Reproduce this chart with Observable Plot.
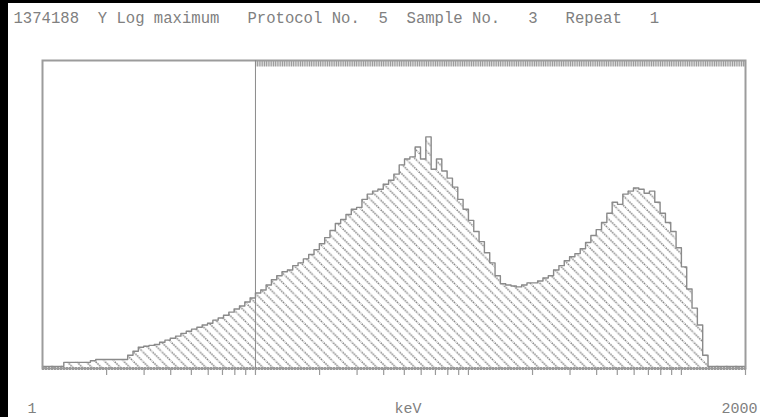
<!DOCTYPE html>
<html><head><meta charset="utf-8">
<script src="https://cdn.jsdelivr.net/npm/d3@7"></script>
<script src="https://cdn.jsdelivr.net/npm/@observablehq/plot@0.6"></script>
<style>
html,body{margin:0;padding:0;background:#fff;}
#wrap{position:relative;width:760px;height:417px;overflow:hidden;}
#wrap svg{position:absolute;left:0;top:0;}
.bar{position:absolute;background:#000;z-index:2;}
</style></head><body>
<div id="wrap">
<div class="bar" style="left:0;top:0;width:8px;height:417px"></div>
<div class="bar" style="left:0;top:0;width:760px;height:3px"></div>
</div>
<script>
// ---- data ----
const binsPerDecade = 40;            // channel grid: 40 equal log-width bins per decade
const counts = [
  7,7,7,7,20,20,20,20,20,25,29,29,29,29,29,29,
  43,56,69,72,75,78,85,92,98,105,114,121,128,134,141,147,157,164,173,183,193,203,216,229,
  245,255,271,288,301,314,320,334,343,356,370,386,405,425,448,471,484,500,517,523,
  549,566,576,582,598,611,631,661,680,687,719,680,752,647,680,641,618,589,549,517,
  481,445,412,376,343,301,275,271,268,265,271,278,278,284,294,301,320,334,350,363,
  373,389,409,432,451,474,504,540,533,566,576,586,582,569,576,540,504,474,445,392,
  330,258,196,141,43,
  7,7,7,7,7,7,7
];
const xDomain = [1, 2000];
const yMax = 1000;
const markerKeV = [10];
const tickKeV = [2,3,4,5,6,7,8,9,10,20,30,40,50,60,70,80,90,100,200,300,400,500,600,700,800,900,1000,2000];
const headerText = "1374188  Y Log maximum   Protocol No.  5  Sample No.   3   Repeat   1";
const lowLabel = "1";
const highLabel = "2000";
const axisTitle = "keV";

// ---- build step outline ----
const steps = counts.map((c, i) => ({lo: Math.pow(10, i / binsPerDecade), c}));
steps.push({lo: xDomain[1], c: counts[counts.length - 1]});

const mono = "Liberation Mono, DejaVu Sans Mono, monospace";
const nb = s => s.replace(/ /g, "\u00A0");
const txt = {fontFamily: mono, fontSize: 15, fill: "#808080", lineAnchor: "middle"};

const svg = Plot.plot({
  width: 760, height: 417,
  marginTop: 60, marginBottom: 49, marginLeft: 42, marginRight: 15,
  x: {type: "log", domain: xDomain},
  y: {domain: [0, yMax], axis: null},
  style: {background: "transparent"},
  marks: [
    Plot.areaY(steps, {x: "lo", y: "c", curve: "step-after", fill: "url(#hatch)"}),
    Plot.lineY(steps, {x: "lo", y: "c", curve: "step-after", stroke: "#8a8a8a", strokeWidth: 1.4}),
    Plot.frame({stroke: "#9c9c9c", strokeWidth: 2}),
    Plot.ruleY([0], {stroke: "#9a9a9a", strokeWidth: 3, strokeDasharray: "2 1"}),
    Plot.ruleY([yMax], {x1: markerKeV[0], x2: xDomain[1], stroke: "#9c9c9c", strokeWidth: 6, dy: 3, strokeDasharray: "1.2 0.6"}),
    Plot.ruleX(markerKeV, {stroke: "#8a8a8a", strokeWidth: 1}),
    Plot.axisX({ticks: tickKeV, tickSize: 7, tickFormat: () => "", label: null, stroke: "#9a9a9a", strokeWidth: 1.2}),
    Plot.text([headerText], {text: d => nb(d), frameAnchor: "top-left", dx: -29, dy: -43, textAnchor: "start",
      ...txt, fontSize: 15.6}),
    Plot.text([lowLabel], {frameAnchor: "bottom-left", dx: -15, dy: 40, ...txt}),
    Plot.text([axisTitle], {frameAnchor: "bottom", dx: 14, dy: 40, ...txt}),
    Plot.text([highLabel], {frameAnchor: "bottom-right", dx: 12, dy: 40, ...txt})
  ]
});

// hatch pattern
const defs = d3.select(svg).insert("defs", ":first-child");
const pat = defs.append("pattern").attr("id", "hatch").attr("patternUnits", "userSpaceOnUse")
  .attr("width", 9.5).attr("height", 9.5);
pat.append("path").attr("d", "M-1,-1 L10.5,10.5 M-1,8.5 L1,10.5 M8.5,-1 L10.5,1")
  .attr("stroke", "#7e7e7e").attr("stroke-width", 1.5).attr("stroke-dasharray", "1.5 0.9").attr("fill", "none");

document.getElementById("wrap").appendChild(svg);
</script>
</body></html>
